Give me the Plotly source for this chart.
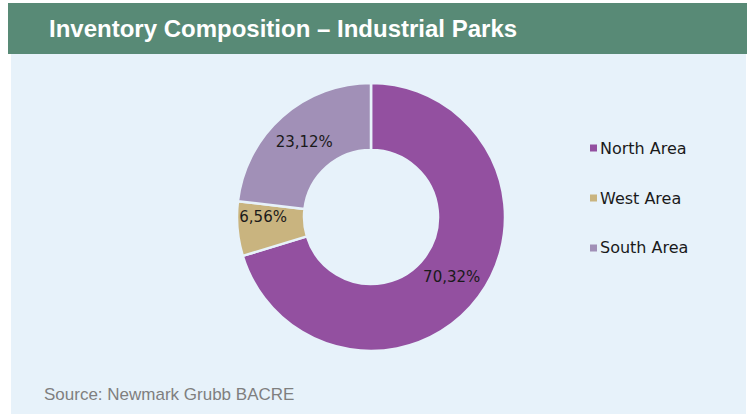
import plotly.graph_objects as go

# ---- data ----
categories = ["North Area", "West Area", "South Area"]
shares = [70.32, 6.56, 23.12]
colors = ["#9350A0", "#C9B47F", "#A190B7"]
title_text = "Inventory Composition – Industrial Parks"
source_text = "Source: Newmark Grubb BACRE"

W, H = 751, 419
PANEL = "#E7F2FA"
HEADER = "#588A76"

def px_x(x):
    return x / W

def px_y(y):
    return 1 - y / H

fig = go.Figure()

fig.add_trace(go.Pie(
    labels=categories,
    values=shares,
    sort=False,
    direction="clockwise",
    rotation=0,
    hole=0.5,
    marker=dict(colors=colors, line=dict(color=PANEL, width=2.5)),
    texttemplate="%{value:.2f}%",
    textposition="inside",
    insidetextorientation="horizontal",
    textfont=dict(family="DejaVu Sans", size=15, color="#1a1a1a"),
    hoverinfo="label+percent",
    showlegend=False,
    domain=dict(x=[px_x(237), px_x(505)], y=[px_y(351), px_y(83)]),
))

shapes = [
    dict(type="rect", xref="paper", yref="paper",
         x0=px_x(11), x1=px_x(746), y0=px_y(414), y1=px_y(54),
         fillcolor=PANEL, line=dict(width=0), layer="below"),
    dict(type="rect", xref="paper", yref="paper",
         x0=px_x(8), x1=px_x(747), y0=px_y(54), y1=px_y(3),
         fillcolor=HEADER, line=dict(width=0), layer="below"),
]

annotations = [
    dict(text="<b>" + title_text + "</b>", xref="paper", yref="paper", x=px_x(47), y=px_y(29),
         xanchor="left", yanchor="middle", showarrow=False,
         font=dict(family="Liberation Sans", size=24, color="white")),
    dict(text=source_text, xref="paper", yref="paper", x=px_x(42), y=px_y(394),
         xanchor="left", yanchor="middle", showarrow=False,
         font=dict(family="Liberation Sans", size=17, color="#7f7f7f")),
]

# legend built from the category lists
for i, (cat, col) in enumerate(zip(categories, colors)):
    yc = 148 + 50 * i
    shapes.append(dict(type="rect", xref="paper", yref="paper",
                       x0=px_x(590), x1=px_x(597), y0=px_y(yc + 3.5), y1=px_y(yc - 3.5),
                       fillcolor=col, line=dict(width=0)))
    annotations.append(dict(text=cat, xref="paper", yref="paper",
                            x=px_x(598), y=px_y(yc), xanchor="left", yanchor="middle",
                            showarrow=False,
                            font=dict(family="DejaVu Sans", size=16, color="#1a1a1a")))

fig.update_layout(
    width=W, height=H,
    margin=dict(l=0, r=0, t=0, b=0),
    paper_bgcolor="white",
    plot_bgcolor="white",
    separators=",.",
    shapes=shapes,
    annotations=annotations,
    uniformtext=dict(minsize=15, mode="show"),
)

fig.write_html("out.html")
